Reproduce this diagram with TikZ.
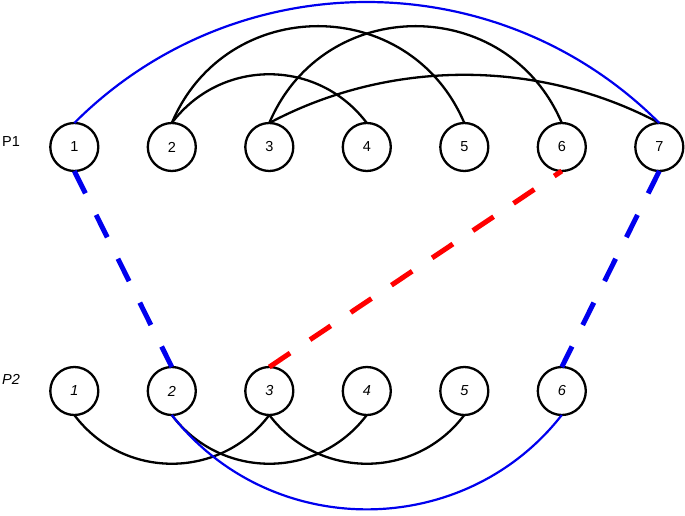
\documentclass[tikz,border=0pt]{standalone}
\usepackage{fontspec}
\setmainfont{Liberation Sans}
\usetikzlibrary{positioning}
\definecolor{Blue}{HTML}{0000EE}
\definecolor{Red}{HTML}{FF0000}

\begin{document}
\begin{tikzpicture}[
  x=1pt, y=1pt,
  font=\fontsize{14.5}{17}\selectfont,
  vtx/.style={draw, circle, line width=2.3pt, minimum size=48pt, inner sep=0pt, outer sep=0pt},
  vtxi/.style={vtx, font=\fontsize{14.5}{17}\selectfont\itshape},
  tag/.style={anchor=west, inner sep=0pt},
  link/.style={line width=2.3pt},
  bluelink/.style={draw=Blue, line width=2.2pt},
  dashlink/.style={line width=5pt, dash pattern=on 25pt off 24pt}
]
  \useasboundingbox (0,0) rectangle (685,-516);

  % parent P1
  \node[vtx] (a1) at (74.3,-147) {1};
  \node[vtx, right=49.5pt of a1] (a2) {2};
  \node[vtx, right=49.5pt of a2] (a3) {3};
  \node[vtx, right=49.5pt of a3] (a4) {4};
  \node[vtx, right=49.5pt of a4] (a5) {5};
  \node[vtx, right=49.5pt of a5] (a6) {6};
  \node[vtx, right=49.5pt of a6] (a7) {7};
  \node[tag] (t1) at (2,-142) {P1};

  % parent P2
  \node[vtxi, below=196pt of a1] (b1) {1};
  \node[vtxi, right=49.5pt of b1] (b2) {2};
  \node[vtxi, right=49.5pt of b2] (b3) {3};
  \node[vtxi, right=49.5pt of b3] (b4) {4};
  \node[vtxi, right=49.5pt of b4] (b5) {5};
  \node[vtxi, right=49.5pt of b5] (b6) {6};
  \node[tag, font=\fontsize{14.5}{17}\selectfont\itshape] (t2) at (2,-379) {P2};

  \draw[link] (a2.north) to[out=67,in=113,looseness=1.23] (a5.north);
  \draw[link] (a3.north) to[out=67,in=113,looseness=1.23] (a6.north);
  \draw[link] (a2.north) to[out=53,in=127,looseness=1.07] (a4.north);
  \draw[link] (a3.north) to[out=28,in=152,looseness=0.9] (a7.north);
  \draw[bluelink] (a1.north) to[out=45,in=135,looseness=1] (a7.north);

  \draw[link] (b1.south) to[out=-53,in=-127,looseness=1.07] (b3.south);
  \draw[link] (b2.south) to[out=-53,in=-127,looseness=1.07] (b4.south);
  \draw[link] (b3.south) to[out=-53,in=-127,looseness=1.07] (b5.south);
  \draw[bluelink] (b2.south) to[out=-52,in=-128,looseness=1.05] (b6.south);

  \draw[dashlink, Blue] (a1.south) -- (b2.north);
  \draw[dashlink, Red] (b3.north) -- (a6.south);
  \draw[dashlink, Blue] (a7.south) -- (b6.north);
\end{tikzpicture}
\end{document}
